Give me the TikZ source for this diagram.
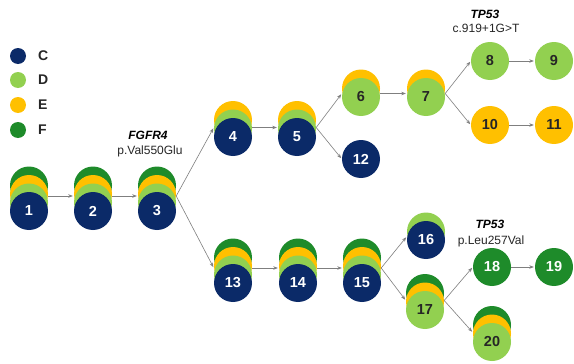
\documentclass[tikz,border=0pt]{standalone}
\usepackage{fontspec}
\setmainfont{Liberation Sans}
\usetikzlibrary{arrows.meta}
\definecolor{cnavy}{HTML}{0B2A68}
\definecolor{clgreen}{HTML}{92D050}
\definecolor{cyellow}{HTML}{FFC000}
\definecolor{cgreen}{HTML}{1E8B2A}
\definecolor{ctext}{HTML}{262626}
\definecolor{cline}{HTML}{7F7F7F}
\tikzset{
  layer/.style={circle, minimum size=38pt, inner sep=0pt, draw=none},
  numtxt/.style={font=\fontsize{14.5}{16}\selectfont\bfseries, inner sep=0pt},
  anchorc/.style={circle, minimum size=38pt, inner sep=0pt},
  arr/.style={draw=cline, line width=0.6pt, shorten >=1pt, -{Stealth[length=4.5pt,width=3.5pt]}},
  legdot/.style={circle, minimum size=16pt, inner sep=0pt},
  legtxt/.style={font=\fontsize{14}{16}\selectfont\bfseries, text=ctext, anchor=west, inner sep=0pt},
  gene/.style={font=\fontsize{12}{14}\selectfont\bfseries\itshape, text=black, inner sep=0pt},
  mut/.style={font=\fontsize{12}{14}\selectfont, text=ctext, inner sep=0pt}
}
\newcommand\stk[8]{%
  \foreach \cc [count=\ii] in {#6} {
    \pgfmathsetmacro\dy{(#4-\ii)*8.5}
    \node[layer, fill=\cc] (#1-\ii) at (#2, #3-\dy) {};
  }
  \node[numtxt, text=#7] (#1-t) at (#2,#3) {#8};
  \node[anchorc] (#1) at (#2, #3-#5) {};
}
\begin{document}
\begin{tikzpicture}[x=1pt,y=-1pt]
\fill[white] (0,0) rectangle (574,364);
\useasboundingbox (0,0) rectangle (574,364);
% legend
\node[legdot, fill=cnavy] (lc) at (18,56) {};
\node[legtxt] (lct) at (38,56) {C};
\node[legdot, fill=clgreen] (ld) at (18,80) {};
\node[legtxt] (ldt) at (38,80) {D};
\node[legdot, fill=cyellow] (le) at (18,105) {};
\node[legtxt] (let) at (38,105) {E};
\node[legdot, fill=cgreen] (lf) at (18,130) {};
\node[legtxt] (lft) at (38,130) {F};
% stacks
\stk{n1}{29}{211}{4}{15}{cgreen,cyellow,clgreen,cnavy}{white}{1}
\stk{n2}{93}{211}{4}{15}{cgreen,cyellow,clgreen,cnavy}{white}{2}
\stk{n3}{157}{211}{4}{15}{cgreen,cyellow,clgreen,cnavy}{white}{3}
\stk{n4}{233}{137}{3}{9.5}{cyellow,clgreen,cnavy}{white}{4}
\stk{n5}{297}{137}{3}{9.5}{cyellow,clgreen,cnavy}{white}{5}
\stk{n6}{361}{97}{2}{3.5}{cyellow,clgreen}{ctext}{6}
\stk{n7}{426}{97}{2}{3.5}{cyellow,clgreen}{ctext}{7}
\stk{n8}{490}{61}{1}{0}{clgreen}{ctext}{8}
\stk{n9}{554}{61}{1}{0}{clgreen}{ctext}{9}
\stk{n10}{490}{125}{1}{0}{cyellow}{ctext}{10}
\stk{n11}{554}{125}{1}{0}{cyellow}{ctext}{11}
\stk{n12}{361}{159}{1}{0}{cnavy}{white}{12}
\stk{n13}{233}{283}{4}{15}{cgreen,cyellow,clgreen,cnavy}{white}{13}
\stk{n14}{298}{283}{4}{15}{cgreen,cyellow,clgreen,cnavy}{white}{14}
\stk{n15}{362}{283}{4}{15}{cgreen,cyellow,clgreen,cnavy}{white}{15}
\stk{n16}{426}{240}{2}{3.5}{clgreen,cnavy}{white}{16}
\stk{n17}{425}{310}{3}{9.5}{cgreen,cyellow,clgreen}{ctext}{17}
\stk{n18}{492}{267}{1}{0}{cgreen}{white}{18}
\stk{n19}{554}{267}{1}{0}{cgreen}{white}{19}
\stk{n20}{492}{342}{3}{9.5}{cgreen,cyellow,clgreen}{ctext}{20}
% labels
\node[gene] (g1) at (148,135) {FGFR4};
\node[mut] (m1) at (150,151) {p.Val550Glu};
\node[gene] (g2) at (485,14) {TP53};
\node[mut] (m2) at (486,28) {c.919+1G>T};
\node[gene] (g3) at (490,224) {TP53};
\node[mut] (m3) at (491,241) {p.Leu257Val};
% arrows
\draw[arr] (n1.east) -- (n2.west);
\draw[arr] (n2.east) -- (n3.west);
\draw[arr] (n3.east) -- (n4.west);
\draw[arr] (n3.east) -- (n13.west);
\draw[arr] (n4.east) -- (n5.west);
\draw[arr] (n5.east) -- (n6.west);
\draw[arr] (n5.east) -- (n12.west);
\draw[arr] (n6.east) -- (n7.west);
\draw[arr] (n7.east) -- (n8.west);
\draw[arr] (n7.east) -- (n10.west);
\draw[arr] (n8.east) -- (n9.west);
\draw[arr] (n10.east) -- (n11.west);
\draw[arr] (n13.east) -- (n14.west);
\draw[arr] (n14.east) -- (n15.west);
\draw[arr] (n15.east) -- (n16.west);
\draw[arr] (n15.east) -- (n17.west);
\draw[arr] (n17.east) -- (n18.west);
\draw[arr] (n17.east) -- (n20.west);
\draw[arr] (n18.east) -- (n19.west);
\end{tikzpicture}
\end{document}
